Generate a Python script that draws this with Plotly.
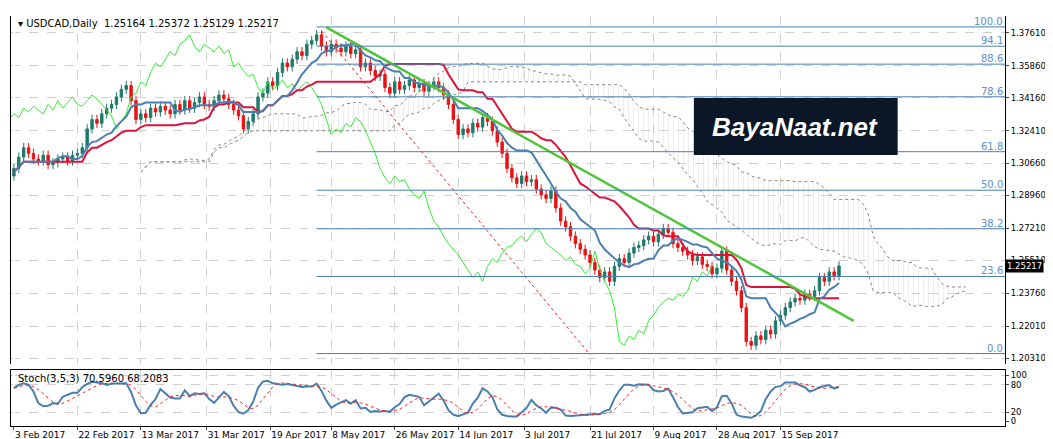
import pandas as pd
import plotly.graph_objects as go

# daily closes, 3 Feb 2017 onwards
closes = [1.3040,1.3100,1.3150,1.3120,1.3090,1.3080,1.3110,1.3060,1.3070,1.3090,1.3100,1.3080,1.3110,
          1.3120,1.3150,1.3250,1.3300,1.3280,1.3330,1.3360,1.3380,
          1.3420,1.3460,1.3480,1.3400,
          1.3300,1.3330,1.3310,1.3360,1.3340,1.3370,1.3350,1.3330,1.3380,1.3350,1.3400,1.3360,1.3390,1.3420,1.3380,1.3370,
          1.3400,1.3430,1.3410,1.3380,1.3350,1.3320,1.3250,1.3290,
          1.3330,1.3420,1.3440,1.3500,1.3480,1.3550,1.3600,1.3580,1.3620,1.3660,1.3640,1.3700,1.3720,1.3750,
          1.3690,1.3660,1.3700,1.3680,1.3660,1.3690,1.3650,1.3670,
          1.3580,1.3600,1.3560,1.3530,1.3540,1.3470,1.3440,1.3500,1.3460,
          1.3480,1.3510,1.3470,1.3490,1.3450,1.3480,1.3500,1.3470,1.3430,1.3380,
          1.3300,1.3220,1.3250,1.3230,1.3280,1.3260,1.3310,1.3290,1.3240,1.3180,1.3120,
          1.3040,1.2990,1.2960,1.3000,1.2970,1.2980,1.2930,1.2900,
          1.2880,1.2920,1.2830,1.2760,1.2730,1.2680,1.2640,1.2610,1.2580,1.2540,
          1.2500,1.2460,1.2490,1.2440,1.2520,1.2560,1.2540,1.2590,
          1.2620,1.2630,1.2660,1.2680,1.2650,1.2690,1.2720,1.2700,
          1.2640,1.2620,1.2600,1.2580,1.2550,1.2570,1.2530,1.2520,1.2480,1.2510,1.2600,
          1.2500,1.2440,1.2390,1.2300,1.2120,1.2100,1.2150,
          1.2130,1.2180,1.2160,1.2230,1.2260,1.2300,1.2330,1.2350,
          1.2340,1.2370,1.2360,1.2390,1.2460,1.2440,1.2490,1.2470,1.25217]

date_labels = ["3 Feb 2017", "22 Feb 2017", "13 Mar 2017", "31 Mar 2017", "19 Apr 2017", "8 May 2017",
               "26 May 2017", "14 Jun 2017", "3 Jul 2017", "21 Jul 2017", "9 Aug 2017", "28 Aug 2017", "15 Sep 2017"]
date_bars = [0, 13, 26, 39.5, 52.5, 65, 78, 91, 104.5, 118, 131, 144, 157]

price_ticks = [1.37610, 1.35860, 1.34160, 1.32410, 1.30660, 1.28960, 1.27210, 1.25510, 1.23760, 1.22010, 1.20310]
fib_levels = [0.0, 23.6, 38.2, 50.0, 61.8, 78.6, 88.6, 94.1, 100.0]
fib_low, fib_high = 1.2056, 1.3792
fib_start_bar = 62

trend_pts = ([64, 172], [1.3790, 1.2230])
channel_pts = ([63, 118], [1.3770, 1.2050])
last_ohlc = "1.25164 1.25372 1.25129 1.25217"

df = pd.DataFrame({"close": closes})
df["open"] = df["close"].shift(1).fillna(1.3000)
df["high"] = df[["open", "close"]].max(axis=1) + 0.0025
df["low"] = df[["open", "close"]].min(axis=1) - 0.0025
n = len(df)
bars = list(range(n))

# ichimoku
def mid(p):
    return (df["high"].rolling(p, 1).max() + df["low"].rolling(p, 1).min()) / 2
tenkan = mid(9)
kijun = mid(26)
span_a = (tenkan + kijun) / 2
span_b = mid(52)
fwd = [b + 26 for b in bars]
chikou_x = [b - 26 for b in bars]

# stochastic 3,5,3
lo = df["low"].rolling(3, 1).min()
hi = df["high"].rolling(3, 1).max()
k = 100 * (df["close"] - lo).rolling(3, 1).sum() / (hi - lo).rolling(3, 1).sum()
d = k.rolling(5, 1).mean()

fig = go.Figure()
# cloud
fig.add_trace(go.Scatter(x=fwd, y=span_b, mode="lines", line=dict(color="#888888", width=1, dash="dot"),
                         hoverinfo="skip"))
fig.add_trace(go.Scatter(x=fwd, y=span_a, mode="lines", line=dict(color="#888888", width=1, dash="dot"),
                         fill="tonexty", fillcolor="rgba(0,0,0,0)",
                         fillpattern=dict(shape="|", fgcolor="#bbbbbb", size=5, solidity=0.1),
                         hoverinfo="skip"))
fig.add_trace(go.Scatter(x=chikou_x, y=df["close"], mode="lines", line=dict(color="#33ee33", width=1)))
fig.add_trace(go.Candlestick(x=bars, open=df["open"], high=df["high"], low=df["low"], close=df["close"],
                             increasing=dict(line=dict(color="#1f7a6a", width=1), fillcolor="#1f7a6a"),
                             decreasing=dict(line=dict(color="#ee1111", width=1), fillcolor="#ee1111"),
                             whiskerwidth=0))
fig.add_trace(go.Scatter(x=bars, y=kijun, mode="lines", line=dict(color="#dc143c", width=2)))
fig.add_trace(go.Scatter(x=bars, y=tenkan, mode="lines", line=dict(color="#4a7fb0", width=2)))
fig.add_trace(go.Scatter(x=trend_pts[0], y=trend_pts[1], mode="lines", line=dict(color="#4fc63a", width=2.5)))
fig.add_trace(go.Scatter(x=channel_pts[0], y=channel_pts[1], mode="lines",
                         line=dict(color="#ee2222", width=1, dash="dot")))

# fibonacci
for lv in fib_levels:
    p = fib_low + (fib_high - fib_low) * lv / 100
    fig.add_trace(go.Scatter(x=[fib_start_bar, 203], y=[p, p], mode="lines",
                             line=dict(color="#4a7fb0", width=1)))
    fig.add_annotation(x=203, y=p, text=f"{lv:.1f}", showarrow=False, xanchor="right", yanchor="bottom",
                       font=dict(color="#5b8fcc", size=10), yshift=-2)

# stochastic panel
fig.add_trace(go.Scatter(x=bars, y=k, mode="lines", line=dict(color="#4a7fb0", width=2), yaxis="y2"))
fig.add_trace(go.Scatter(x=bars, y=d, mode="lines", line=dict(color="#ff2020", width=1, dash="dot"), yaxis="y2"))

grid = dict(showgrid=True, gridcolor="#d0d0d0", griddash="dash", gridwidth=1)
fig.update_layout(
    width=1053, height=439, showlegend=False, plot_bgcolor="white", paper_bgcolor="white",
    margin=dict(l=3, r=56, t=8, b=21),
    font=dict(family="DejaVu Sans", size=9, color="black"),
    xaxis=dict(range=[-0.6, 203], tickvals=date_bars, ticktext=date_labels, rangeslider=dict(visible=False),
               tickangle=0, ticks="outside", ticklen=3, anchor="y2", showline=True, linecolor="black",
               ticklabelposition="outside right", automargin=False, mirror=True, **grid),
    yaxis=dict(domain=[0.151, 1], range=[1.2000, 1.3850], side="right", tickvals=price_ticks,
               tickformat=".5f", ticks="outside", ticklen=3, showline=True, linecolor="black", mirror=True,
               tickfont=dict(size=8.5), automargin=False, **grid),
    yaxis2=dict(domain=[0, 0.137], range=[-10, 112], side="right", tickvals=[0, 20, 80, 100],
                ticks="outside", ticklen=3, showline=True, linecolor="black", mirror=True,
                tickfont=dict(size=8.5), automargin=False, **grid),
)
fig.add_annotation(xref="paper", yref="paper", x=0.005, y=1.0, xanchor="left", yanchor="top", showarrow=False,
                   text="▾ USDCAD,Daily  " + last_ohlc, font=dict(size=10))
fig.add_annotation(xref="paper", yref="paper", x=0.005, y=0.135, xanchor="left", yanchor="top", showarrow=False,
                   text="Stoch(3,5,3) 70.5960 68.2083", font=dict(size=10))
fig.add_annotation(xref="paper", x=1.0, y=closes[-1], xanchor="left", showarrow=False, text=f"{closes[-1]:.5f}",
                   bgcolor="black", font=dict(color="white", size=8.5))
# logo box
fig.add_shape(type="rect", xref="paper", yref="paper", x0=0.687, x1=0.892, y0=0.661, y1=0.8,
              fillcolor="#0b1626", line=dict(width=0), layer="above")
fig.add_annotation(xref="paper", yref="paper", x=0.789, y=0.73, xanchor="center", yanchor="middle",
                   showarrow=False, text="<b><i>BayaNaat.net</i></b>",
                   font=dict(color="#ffffff", size=26, family="Liberation Sans"))

fig.write_html("out.html")
